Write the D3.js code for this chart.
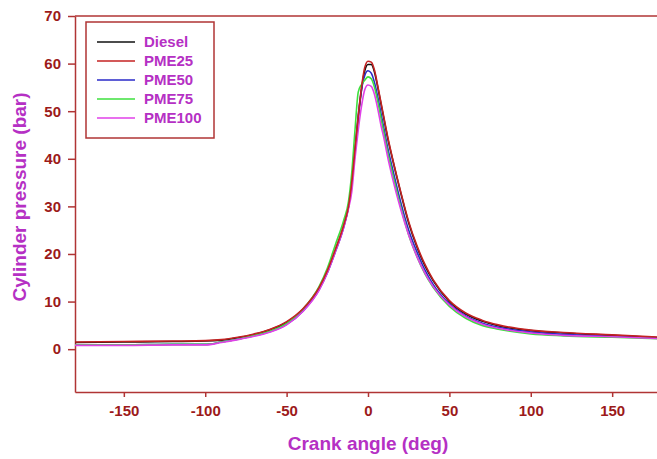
<!DOCTYPE html>
<html>
<head>
<meta charset="utf-8">
<script src="https://cdn.jsdelivr.net/npm/d3@7"></script>
<style>
  body { margin: 0; background: #fff; }
  text { font-family: "Liberation Sans", Arial, sans-serif; font-weight: bold; }
</style>
</head>
<body>
<div id="chart"></div>
<script>
// Crank angle samples (deg)
var angles = [-180, -150, -120, -100, -90, -80, -70, -60, -50, -40, -30, -25, -20, -15, -12, -10, -8, -6, -4, -2, 0, 2, 4, 6, 8, 10, 12, 15, 20, 25, 30, 35, 40, 50, 60, 70, 80, 100, 120, 150, 180];

// Cylinder pressure (bar)
var diesel = [1.4, 1.5, 1.6, 1.7, 1.9, 2.4, 3.1, 4.1, 5.6, 8.3, 12.8, 16.3, 20.8, 25.8, 29.8, 34.5, 41.5, 48.5, 54.5, 58.5, 59.8, 59.8, 58.2, 55, 51.5, 48, 44.5, 40, 33, 26.5, 21.5, 17.5, 14.4, 10, 7.4, 5.9, 4.9, 3.9, 3.4, 2.9, 2.4];
var pme25 = [1.5, 1.6, 1.7, 1.8, 2.0, 2.5, 3.2, 4.2, 5.8, 8.5, 13, 16.5, 21, 26, 30, 35, 42, 49, 55, 59.2, 60.5, 60.3, 58.6, 55.3, 51.8, 48.3, 44.8, 40.2, 33.2, 26.8, 21.8, 17.8, 14.6, 10.2, 7.6, 6.1, 5.1, 4.0, 3.5, 3.0, 2.5];
var pme50 = [0.9, 0.9, 1.0, 1.0, 1.5, 2.1, 2.8, 3.7, 5.2, 8, 12.5, 16, 20.5, 25.5, 30, 35, 42, 49, 54.5, 57.5, 58.5, 58, 56, 53, 49.5, 46, 42.5, 38, 31, 25, 20.5, 16.6, 13.6, 9.5, 7, 5.5, 4.6, 3.6, 3.1, 2.7, 2.3];
var pme75 = [0.9, 0.9, 1.0, 1.0, 1.5, 2.1, 2.9, 3.8, 5.4, 8.4, 13.2, 17, 22, 27, 31, 37, 46, 54, 55.6, 56.5, 57.2, 56.8, 55, 52, 48.5, 45, 41.5, 37, 30, 24, 19.5, 15.8, 13, 9, 6.5, 5, 4.2, 3.2, 2.8, 2.5, 2.2];
var pme100 = [0.8, 0.8, 0.9, 0.9, 1.4, 2.0, 2.7, 3.6, 5.1, 7.9, 12.4, 16, 20.5, 25.5, 29.5, 33, 40, 46, 51, 54.5, 55.5, 55.2, 53.5, 50.5, 47, 44, 40.5, 36, 29.5, 24, 19.5, 16, 13.2, 9.3, 6.8, 5.3, 4.4, 3.4, 2.9, 2.6, 2.2];

var seriesNames = ["Diesel", "PME25", "PME50", "PME75", "PME100"];
var seriesColors = ["#111111", "#c42222", "#2a2ac8", "#3ee03e", "#e040e8"];
var seriesValues = [diesel, pme25, pme50, pme75, pme100];

var xTicks = [-150, -100, -50, 0, 50, 100, 150];
var yTicks = [0, 10, 20, 30, 40, 50, 60, 70];

var svgWidth = 657;
var svgHeight = 459;

var margin = { top: 16, left: 75, bottom: 67, right: -4 };
var chartWidth = svgWidth - margin.left - margin.right;
var chartHeight = svgHeight - margin.top - margin.bottom;

var axisColor = "#b03434";
var tickColor = "#9c1a1a";
var titleColor = "#b530c4";

var svg = d3.select("#chart")
    .append("svg")
    .attr("width", svgWidth)
    .attr("height", svgHeight);

var chartGroup = svg.append("g")
    .attr("transform", `translate(${margin.left}, ${margin.top})`);

var xScale = d3.scaleLinear().domain([-180, 180]).range([0, chartWidth]);
var yScale = d3.scaleLinear().domain([-9, 70]).range([chartHeight, 0]);

// frame (top and right lines)
chartGroup.append("line")
    .attr("x1", 0).attr("x2", chartWidth)
    .attr("y1", 0).attr("y2", 0)
    .attr("stroke", axisColor).attr("stroke-width", 1.5);
chartGroup.append("line")
    .attr("x1", chartWidth).attr("x2", chartWidth)
    .attr("y1", 0).attr("y2", chartHeight)
    .attr("stroke", axisColor).attr("stroke-width", 1.5);

// axes (plain hyphen for negatives, like the original)
var fmt = d => String(d);
var bottomAxis = d3.axisBottom(xScale).tickValues(xTicks).tickFormat(fmt).tickSize(5).tickSizeOuter(0).tickPadding(8);
var leftAxis = d3.axisLeft(yScale).tickValues(yTicks).tickFormat(fmt).tickSize(7).tickSizeOuter(0).tickPadding(7);

var xAxis = chartGroup.append("g")
    .attr("transform", `translate(0, ${chartHeight})`)
    .call(bottomAxis);
var yAxis = chartGroup.append("g")
    .call(leftAxis);

[xAxis, yAxis].forEach(function(ax) {
    ax.select(".domain").attr("stroke", axisColor).attr("stroke-width", 1.5);
    ax.selectAll(".tick line").attr("stroke", axisColor).attr("stroke-width", 1.5);
    ax.selectAll(".tick text")
        .attr("fill", tickColor)
        .style("font-size", "15px")
        .style("font-family", "'Liberation Sans', Arial, sans-serif")
        .style("font-weight", "bold");
});

// lines
var line = d3.line()
    .x(d => xScale(d[0]))
    .y(d => yScale(d[1]))
    .curve(d3.curveMonotoneX);

var drawOrder = [0, 2, 3, 4, 1];
drawOrder.forEach(function(i) {
    var pts = angles.map((a, j) => [a, seriesValues[i][j]]);
    chartGroup.append("path")
        .datum(pts)
        .attr("fill", "none")
        .attr("stroke", seriesColors[i])
        .attr("stroke-width", 1.6)
        .attr("d", line);
});

// legend
var legend = svg.append("g").attr("transform", "translate(86, 22)");
legend.append("rect")
    .attr("width", 128).attr("height", 116)
    .attr("fill", "#fff")
    .attr("stroke", axisColor).attr("stroke-width", 1.5);

seriesNames.forEach(function(name, i) {
    var y = 20 + i * 19;
    legend.append("line")
        .attr("x1", 11).attr("x2", 49)
        .attr("y1", y).attr("y2", y)
        .attr("stroke", seriesColors[i]).attr("stroke-width", 1.6);
    legend.append("text")
        .attr("x", 58).attr("y", y + 5)
        .attr("fill", titleColor)
        .style("font-size", "15px")
        .text(name);
});

// axis titles
svg.append("text")
    .attr("x", margin.left + xScale(0))
    .attr("y", 450)
    .attr("text-anchor", "middle")
    .attr("fill", titleColor)
    .style("font-size", "19px")
    .text("Crank angle (deg)");

svg.append("text")
    .attr("transform", "translate(26, 197) rotate(-90)")
    .attr("text-anchor", "middle")
    .attr("fill", titleColor)
    .style("font-size", "19px")
    .text("Cylinder pressure (bar)");
</script>
</body>
</html>
